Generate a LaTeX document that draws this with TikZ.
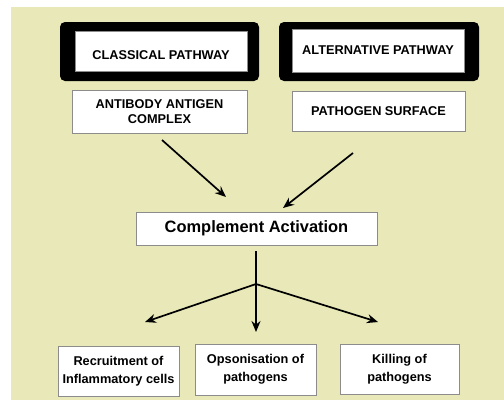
\documentclass[tikz,border=0pt]{standalone}
\usepackage{fontspec}
\setmainfont{Liberation Sans}
\usetikzlibrary{positioning,arrows.meta}

\definecolor{paper}{RGB}{232,232,184}
\definecolor{edge}{RGB}{140,140,140}

\tikzset{
  frame/.style={fill=black, rounded corners=5bp, inner sep=0pt},
  pathbox/.style={draw=edge, fill=white, inner sep=0pt, align=center,
    font=\bfseries\fontsize{12.8}{15}\selectfont},
  resultbox/.style={draw=edge, fill=white, inner sep=0pt, align=center,
    font=\bfseries\fontsize{12.8}{18}\selectfont},
  link/.style={-{Stealth[length=11bp,width=9bp]}, line width=1.7bp}
}

\begin{document}
\begin{tikzpicture}[x=1bp, y=-1bp]

\useasboundingbox (0,0) rectangle (504,402);
\fill [paper] (11,7) rectangle (504,400);

% pathways
\node [frame, minimum width=199bp, minimum height=59bp] (classical-frame) at (159.5,51.5) {};
\node [pathbox, minimum width=172bp, minimum height=40bp, text height=17bp, text depth=0pt] (classical) at (161,51) {CLASSICAL PATHWAY};
\node [frame, minimum width=200bp, minimum height=59bp] (alternative-frame) at (379,51.5) {};
\node [pathbox, minimum width=172bp, minimum height=43bp] (alternative) at (378,50.5) {ALTERNATIVE PATHWAY};

% triggers
\node [pathbox, minimum width=175bp, minimum height=43bp] (antibody) at (159.5,111.5) {ANTIBODY ANTIGEN\\COMPLEX};
\node [pathbox, minimum width=173bp, minimum height=40bp] (surface) at (378.5,111) {PATHOGEN SURFACE};

\node [resultbox, font=\bfseries\fontsize{16.5}{19}\selectfont,
  minimum width=241bp, minimum height=33bp] (activation) at (256.5,228.5) {Complement Activation};

% outcomes
\node [resultbox, minimum width=121bp, minimum height=50bp] (recruitment) at (118.5,371) {Recruitment of\\Inflammatory cells};
\node [resultbox, minimum width=121bp, minimum height=51bp] (opsonisation) at (255.5,369.5) {Opsonisation of\\pathogens};
\node [resultbox, minimum width=119bp, minimum height=50bp] (killing) at (399.5,369) {Killing of\\pathogens};

\coordinate (from-antibody) at (162,140);
\coordinate (to-activation-l) at (226,197);
\coordinate (from-surface) at (353,153);
\coordinate (to-activation-r) at (283,208);
\coordinate (from-activation) at (256,251);
\coordinate (split) at (256,284);
\coordinate (to-recruitment) at (145,322);
\coordinate (to-opsonisation) at (256,332);
\coordinate (to-killing) at (378,322);

\draw [link] (from-antibody) -- (to-activation-l);
\draw [link] (from-surface) -- (to-activation-r);
\draw [line width=1.7bp] (from-activation) -- (split);
\foreach \t in {recruitment,opsonisation,killing}
  \draw [link] (split) -- (to-\t);

\end{tikzpicture}
\end{document}
